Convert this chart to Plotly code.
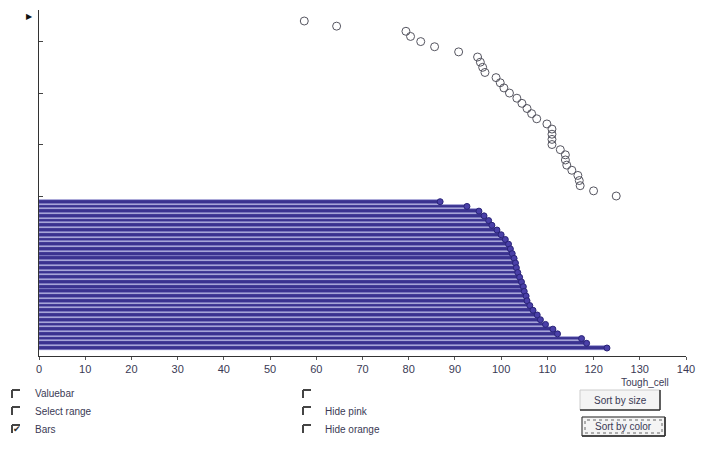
import plotly.graph_objects as go

# ---- data ----
circle_values = [57.4, 64.4, 79.4, 80.4, 82.6, 85.6, 90.8, 94.9, 95.5, 96.0, 96.5, 98.9,
                 99.8, 100.6, 101.8, 103.4, 104.5, 105.6, 106.6, 107.7, 109.9, 111.0,
                 111.0, 111.0, 111.0, 112.8, 113.9, 113.9, 114.2, 115.3, 116.6, 116.9,
                 117.1, 120.0, 124.9]
bar_values = [86.8, 92.6, 95.2, 96.3, 97.3, 98.0, 99.1, 100.0, 100.9, 101.6, 102.0, 102.4,
              102.8, 103.1, 103.3, 103.6, 104.0, 104.4, 104.8, 105.0, 105.4, 105.6, 106.2,
              106.9, 107.8, 108.5, 109.6, 111.2, 112.2, 117.4, 118.5, 122.9]
x_ticks = [0, 10, 20, 30, 40, 50, 60, 70, 80, 90, 100, 110, 120, 130, 140]
x_title = "Tough_cell"
checkboxes_left = ["Valuebar", "Select range", "Bars"]
checkboxes_mid = ["", "Hide pink", "Hide orange"]
buttons = ["Sort by size", "Sort by color"]

# page is 711x466; the browser puts the figure 8px in from the top-left (body margin)
OFF = 8
W, H = 711 - OFF, 466 - OFF
# plot area in page pixels: x 39..686, y 10..356
PL, PR, PT, PB = 39, 686, 10, 356
L, R, T, B = PL - OFF, W - (PR - OFF), PT - OFF, H - (PB - OFF)
PW, PH = PR - PL, PB - PT


def px(x):
    return (x - PL) / PW


def py(y):
    return (PB - y) / PH


TXT = dict(size=10, color="#3a3a55")

circle_rows = list(range(len(circle_values)))
bar_rows = list(range(len(bar_values)))

fig = go.Figure()
fig.add_trace(go.Bar(
    x=bar_values, y=bar_rows, orientation="h", yaxis="y2",
    width=0.8, marker=dict(color="#3a3290", line=dict(color="#8a86d0", width=0.6)),
    hoverinfo="x"))
fig.add_trace(go.Scatter(
    x=bar_values, y=bar_rows, mode="markers", yaxis="y2",
    marker=dict(color="#4a40a8", size=6, line=dict(color="#2a2478", width=1))))
fig.add_trace(go.Scatter(
    x=circle_values, y=circle_rows, mode="markers",
    marker=dict(symbol="circle-open", color="#555560", size=8, line=dict(width=1))))

# circles axis: row k at page pixel 21 + 5.147k
c0, cp = 21.0, 5.147
y1_top = (PT - c0) / cp
y1_bot = (PB - c0) / cp
# bars axis: row j at page pixel 201.7 + 4.72j
b0, bp = 201.7, 4.72
y2_top = (PT - b0) / bp
y2_bot = (PB - b0) / bp

fig.update_layout(
    width=W, height=H, margin=dict(l=L, r=R, t=T, b=B, autoexpand=False),
    paper_bgcolor="white", plot_bgcolor="white", showlegend=False,
    bargap=0,
    font=dict(family="Liberation Sans", size=11, color="#3a3a55"),
    xaxis=dict(range=[0, 140], tickvals=x_ticks, ticktext=[str(v) for v in x_ticks],
               showline=True, linecolor="#333333", linewidth=1, showgrid=False,
               zeroline=False, ticks="outside", ticklen=3, tickcolor="#555555",
               tickfont=dict(size=11, color="#3a3a55")),
    yaxis=dict(range=[y1_bot, y1_top], showline=True, linecolor="#333333", linewidth=1,
               showgrid=False, zeroline=False, tickvals=[4, 14, 24, 34],
               showticklabels=False, ticks="inside", ticklen=4, tickcolor="#444444"),
    yaxis2=dict(range=[y2_bot, y2_top], overlaying="y", visible=False),
)


def note(x, y, text, xanchor="center", font=TXT):
    return dict(x=px(x), y=py(y), xref="paper", yref="paper", text=text, showarrow=False,
                xanchor=xanchor, yanchor="middle", font=font)


ann = []
ann.append(note(29, 16, "▶", font=dict(size=8, color="#111111")))
ann.append(note(645, 382, x_title))

shapes = []
rows_y = [394, 411, 429]


def checkbox(x, yy):
    return [dict(type="line", xref="paper", yref="paper", x0=px(x), x1=px(x + 8),
                 y0=py(yy - 4), y1=py(yy - 4), line=dict(color="#444444", width=2)),
            dict(type="line", xref="paper", yref="paper", x0=px(x), x1=px(x),
                 y0=py(yy - 4), y1=py(yy + 4), line=dict(color="#444444", width=2))]


for i, label in enumerate(checkboxes_left):
    yy = rows_y[i]
    shapes += checkbox(12, yy)
    ann.append(note(33, yy, label, xanchor="left"))
ann.append(note(17, 429, "✔", font=dict(size=9, color="#333333")))
for i, label in enumerate(checkboxes_mid):
    yy = rows_y[i]
    shapes += checkbox(303, yy)
    if label:
        ann.append(note(323, yy, label, xanchor="left"))

# buttons
btn_boxes = [(580, 390, 660, 410), (582, 417, 665, 436)]
for i, label in enumerate(buttons):
    x0, y0, x1, y1 = btn_boxes[i]
    shapes.append(dict(type="rect", xref="paper", yref="paper", x0=px(x0), x1=px(x1),
                       y0=py(y1), y1=py(y0), line=dict(color="#cccccc", width=1),
                       fillcolor="#f4f4f4", layer="below"))
    shapes.append(dict(type="line", xref="paper", yref="paper", x0=px(x1), x1=px(x1),
                       y0=py(y1), y1=py(y0), line=dict(color="#333333", width=1.5)))
    shapes.append(dict(type="line", xref="paper", yref="paper", x0=px(x0), x1=px(x1),
                       y0=py(y1), y1=py(y1), line=dict(color="#333333", width=1.5)))
    if i == 1:
        shapes.append(dict(type="rect", xref="paper", yref="paper", x0=px(x0), x1=px(x1),
                           y0=py(y1), y1=py(y0), line=dict(color="#333333", width=1)))
        shapes.append(dict(type="rect", xref="paper", yref="paper", x0=px(x0 + 3),
                           x1=px(x1 - 3), y0=py(y1 - 3), y1=py(y0 + 3),
                           line=dict(color="#666666", width=1, dash="dot")))
    ann.append(note((x0 + x1) / 2, (y0 + y1) / 2, label))

fig.update_layout(annotations=ann, shapes=shapes)
fig.write_html("out.html")
